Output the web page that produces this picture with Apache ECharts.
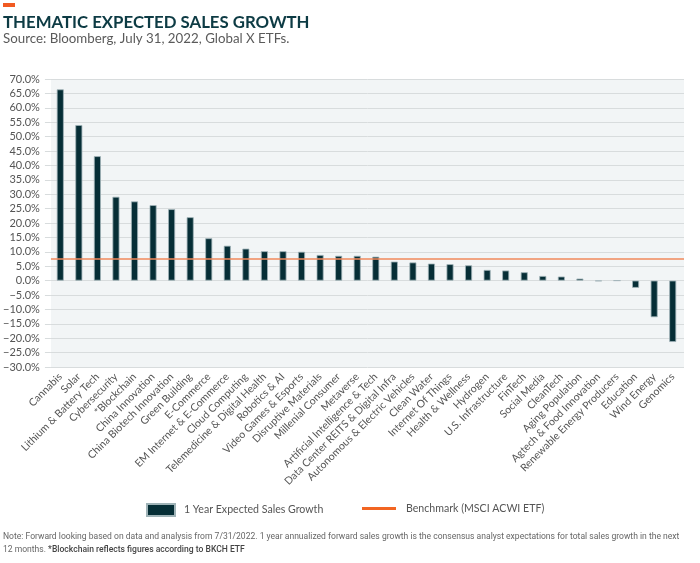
<!DOCTYPE html>
<html><head><meta charset="utf-8">
<script src="https://cdn.jsdelivr.net/npm/echarts@6/dist/echarts.min.js"></script>
<style>html,body{margin:0;padding:0;background:#fff}#c{width:700px;height:563px}</style>
</head><body><div id="c"></div>
<script>
const categories = ["Cannabis","Solar","Lithium & Battery Tech","Cybersecurity","*Blockchain","China Innovation","China Biotech Innovation","Green Building","E-Commerce","EM Internet & E-Commerce","Cloud Computing","Telemedicine & Digital Health","Robotics & AI","Video Games & Esports","Disruptive Materials","Millenial Consumer","Metaverse","Artificial Intelligence & Tech","Data Center REITS & Digital Infra","Autonomous & Electric Vehicles","Clean Water","Internet Of Things","Health & Wellness","Hydrogen","U.S. Infrastructure","FinTech","Social Media","CleanTech","Aging Population","Agtech & Food Innovation","Renewable Energy Producers","Education","Wind Energy","Genomics"];
const salesGrowth = [66.4,54.0,43.2,29.1,27.5,26.2,24.8,22.0,14.7,12.1,11.1,10.2,10.2,10.0,8.9,8.6,8.6,8.3,6.6,6.3,5.9,5.7,5.3,3.7,3.5,2.9,1.6,1.4,0.7,-0.2,0,-2.5,-12.7,-21.3];
const benchmarkValue = 7.5;
const yMin = -30, yMax = 70, yStep = 5;
const barName = "1 Year Expected Sales Growth";
const benchName = "Benchmark (MSCI ACWI ETF)";
const titleText = "THEMATIC EXPECTED SALES GROWTH";
const subtitleText = "Source: Bloomberg, July 31, 2022, Global X ETFs.";
const note1 = "Note: Forward looking based on data and analysis from 7/31/2022. 1 year annualized forward sales growth is the consensus analyst expectations for total sales growth in the next";
const note2a = "12 months. ";
const note2b = "*Blockchain reflects figures according to BKCH ETF";

const FONT = "Lato";
const chart = echarts.init(document.getElementById('c'), null, {renderer: 'canvas'});
const fmt = v => (v < 0 ? '\u2212' + Math.abs(v).toFixed(1) : v.toFixed(1)) + '%';
chart.setOption({
  animation: false,
  backgroundColor: '#fff',
  textStyle: {fontFamily: FONT},
  grid: [
    {left: 49, right: 16, top: 79, bottom: 196, show: true, backgroundColor: '#f2f5f6', borderWidth: 0},
    {left: 51, right: 18, top: 79, bottom: 196}
  ],
  xAxis: [
    {gridIndex: 0, type: 'category', data: categories, show: false},
    {gridIndex: 1, type: 'category', data: categories,
     axisLine: {show: false}, axisTick: {show: false},
     axisLabel: {interval: 0, rotate: 45, margin: 8, fontSize: 10.5, color: '#555', fontFamily: FONT}}
  ],
  yAxis: [
    {gridIndex: 0, type: 'value', min: yMin, max: yMax, interval: yStep,
     axisLine: {show: false},
     axisTick: {show: true, length: 6, lineStyle: {color: '#d8dcdd'}},
     splitLine: {lineStyle: {color: '#d8dcdd', width: 1}},
     axisLabel: {formatter: fmt, margin: 11, fontSize: 11, color: '#555', fontFamily: FONT}},
    {gridIndex: 1, type: 'value', min: yMin, max: yMax, interval: yStep, show: false, splitLine: {show: false}}
  ],
  legend: [
    {data: [barName], left: 146, top: 503, padding: 0, itemWidth: 28, itemHeight: 12, icon: 'rect',
     textStyle: {fontSize: 10.6, color: '#555', fontFamily: FONT, padding: [0,0,0,4]}},
    {data: [benchName], left: 362, top: 503, padding: 0, itemWidth: 34, itemHeight: 3, icon: 'rect',
     textStyle: {fontSize: 10.6, color: '#555', fontFamily: FONT, padding: [0,0,0,5]}}
  ],
  series: [
    {name: barName, type: 'bar', xAxisIndex: 1, yAxisIndex: 1, data: salesGrowth, barWidth: 7,
     itemStyle: {color: '#062e36', borderColor: '#9fb3b7', borderWidth: 0.8}},
    {name: benchName, type: 'line', xAxisIndex: 0, yAxisIndex: 0, data: [], symbol: 'none',
     lineStyle: {color: '#f26522', width: 3}, itemStyle: {color: '#f26522'}, z: 5,
     markLine: {silent: true, symbol: 'none', label: {show: false},
       lineStyle: {color: '#f0895b', width: 1.5, type: 'solid'},
       data: [{yAxis: benchmarkValue}]}}
  ],
  graphic: [
    {type: 'rect', left: 3, top: 3, shape: {width: 12, height: 4}, style: {fill: '#f15a22'}},
    {type: 'text', left: 3, top: 14, style: {text: titleText, font: 'bold 16.8px Lato', fill: '#0d3b44'}},
    {type: 'text', left: 3, top: 32, style: {text: subtitleText, font: '13.3px Lato', fill: '#5a5a5a'}},
    {type: 'text', x: 3, y: 532, scaleX: 0.9, style: {text: note1, font: '9.5px Roboto', fill: '#666'}},
    {type: 'text', x: 3, y: 545, scaleX: 0.9, style: {rich: {a: {font: '9.5px Roboto', fill: '#666'}, b: {font: '500 9.5px Roboto', fill: '#444'}}, text: '{a|' + note2a + '}{b|' + note2b + '}'}}
  ]
});
</script></body></html>
